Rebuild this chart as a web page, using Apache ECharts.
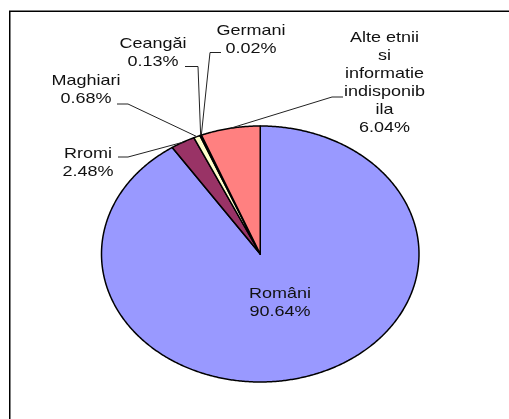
<!DOCTYPE html>
<html>
<head>
<meta charset="utf-8">
<script src="https://cdn.jsdelivr.net/npm/echarts/dist/echarts.min.js"></script>
<style>
  html, body { margin: 0; padding: 0; background: #fff; }
  #main { width: 509px; height: 419px; }
</style>
</head>
<body>
<div id="main"></div>
<script>
// categorii si procente
var categories = ['Români', 'Rromi', 'Maghiari', 'Ceangăi', 'Germani', 'Alte etnii\nsi\ninformatie\nindisponib\nila'];
var shares = [90.64, 2.48, 0.68, 0.13, 0.02, 6.04];

// culorile paletei Excel
var colors = ['#9999FF', '#993366', '#FFFFCC', '#CCFFFF', '#660066', '#FF8080'];

// pozitia etichetelor (pixeli) si cotul liniei de legatura
var labelPos = [
    { x: 280, y: 302.5 },
    { x: 88, y: 162.5, from: [118, 157], elbow: [128, 157] },
    { x: 86, y: 90, from: [117, 104], elbow: [128, 104] },
    { x: 153, y: 53, from: [185, 66.5], elbow: [198, 66.5] },
    { x: 251, y: 40, from: [221, 52.5], elbow: [210, 52.5] },
    { x: 384.5, y: 83, from: [343, 97], elbow: [332, 97] }
];

var total = shares.reduce(function (a, b) { return a + b; }, 0);

function renderSlice(params, api) {
    var i = params.dataIndex;
    var before = 0;
    for (var k = 0; k < i; k++) before += shares[k];
    var start = before / total * Math.PI * 2;
    var end = (before + shares[i]) / total * Math.PI * 2;

    // felia pe elipsa: unghi masurat din varf, in sensul acelor de ceas
    var pts = [api.coord([0, 0])];
    var n = Math.max(2, Math.ceil((end - start) / (Math.PI / 360)));
    for (var s = 0; s <= n; s++) {
        var a = start + (end - start) * s / n;
        pts.push(api.coord([Math.sin(a), Math.cos(a)]));
    }

    var children = [{
        type: 'polygon',
        shape: { points: pts },
        style: { fill: colors[i], stroke: '#000', lineWidth: 1.5, lineJoin: 'round' }
    }];

    var lp = labelPos[i];
    if (lp.from) {
        var mid = (start + end) / 2;
        children.push({
            type: 'polyline',
            shape: { points: [lp.from, lp.elbow, api.coord([Math.sin(mid), Math.cos(mid)])] },
            style: { stroke: '#222', lineWidth: 1, fill: null }
        });
    }

    children.push({
        type: 'text',
        x: lp.x,
        y: lp.y,
        scaleX: 1.2,
        style: {
            text: categories[i] + '\n' + shares[i].toFixed(2) + '%',
            x: 0,
            y: 0,
            align: 'center',
            verticalAlign: 'middle',
            fontFamily: 'Liberation Sans, Arial, sans-serif',
            fontSize: 15,
            lineHeight: 18,
            fill: '#111'
        }
    });

    return { type: 'group', children: children };
}

var myChart = echarts.init(document.getElementById('main'));

var option = {
    backgroundColor: '#fff',
    animation: false,
    grid: {
        left: 101.5,
        top: 126,
        width: 317.5,
        height: 256
    },
    xAxis: { type: 'value', min: -1, max: 1, show: false },
    yAxis: { type: 'value', min: -1, max: 1, show: false },
    graphic: [{
        type: 'rect',
        shape: { x: 9.75, y: 11.25, width: 600, height: 600 },
        style: { fill: 'none', stroke: '#000', lineWidth: 1.5 },
        silent: true
    }],
    series: [{
        type: 'custom',
        silent: true,
        clip: false,
        renderItem: renderSlice,
        data: shares.map(function (v, i) {
            return { name: categories[i], value: [i, v] };
        })
    }]
};

myChart.setOption(option);
window.addEventListener('resize', function () {
    myChart.resize();
});
</script>
</body>
</html>
